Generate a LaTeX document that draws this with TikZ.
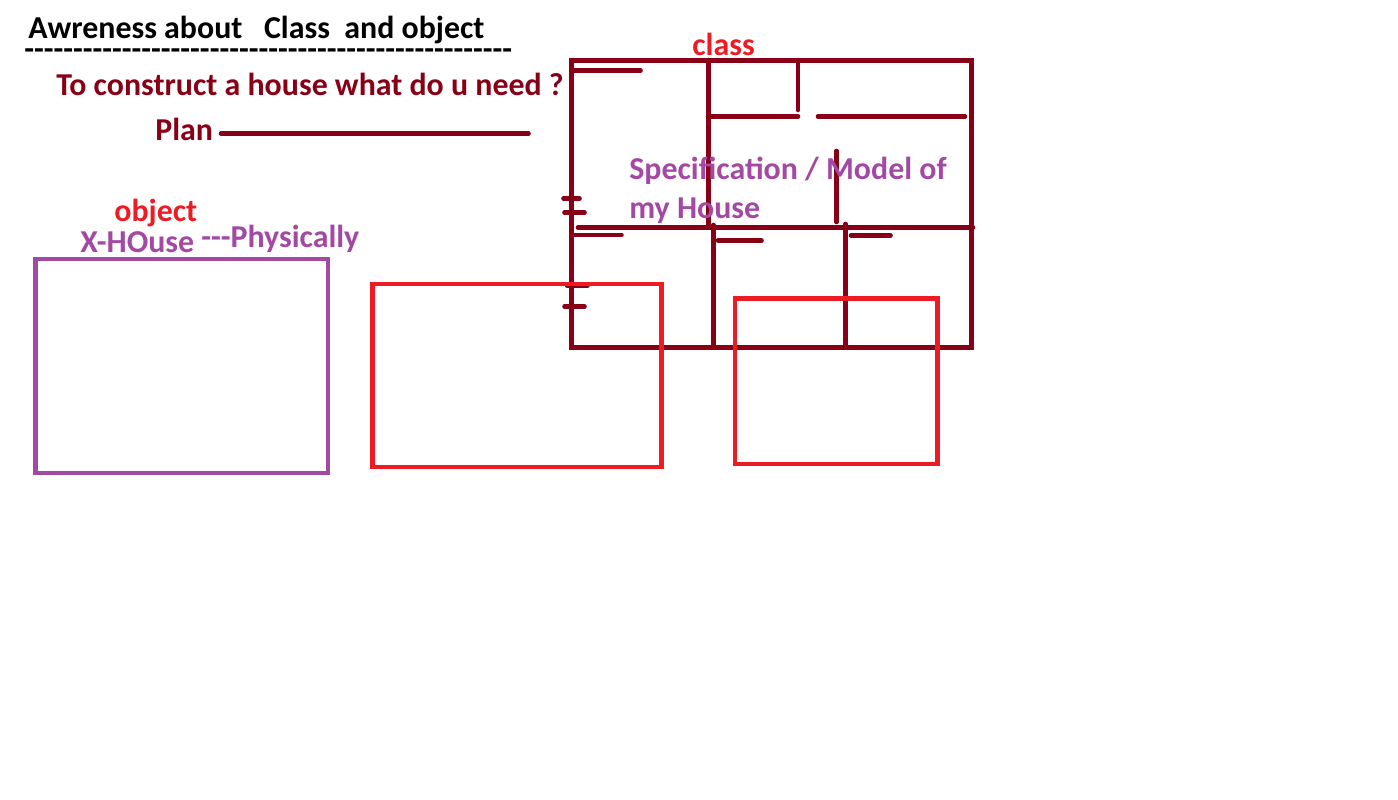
\documentclass[tikz,border=0pt]{standalone}
\usepackage{fontspec}
\newfontfamily\carlito{Carlito}
\definecolor{wallred}{HTML}{880015}
\definecolor{paintred}{HTML}{ED1C24}
\definecolor{paintpurple}{HTML}{A349A4}
\tikzset{
    label text/.style={anchor=base west, inner sep=0pt, font=\carlito\bfseries\fontsize{18.15}{22}\selectfont},
    wall/.style={draw=wallred, line width=2.6pt, line cap=round},
    box/.style={line width=2.6pt},
}

\begin{document}
\begin{tikzpicture}[x=0.02cm, y=-0.02cm]
    \useasboundingbox (0,0) rectangle (1398,800);

    % House plan
    \draw[wall, line cap=butt] (571.5,60.5) rectangle (971.5,347.5);
    \draw[wall] (708.5,60) -- (708.5,227);
    \draw[wall] (798,60) -- (798,110);
    \draw[wall] (708,116.5) -- (798,116.5);
    \draw[wall] (818,116.5) -- (965,116.5);
    \draw[wall] (836.5,151) -- (836.5,222);
    \draw[wall] (578,227.5) -- (973,227.5);
    \draw[wall] (713.5,225) -- (713.5,347);
    \draw[wall] (845.5,224) -- (845.5,347);
    % Short marks
    \draw[wall] (574,70.5) -- (640.5,70.5);
    \draw[wall] (574,235) -- (621.5,235);
    \draw[wall] (718,240.5) -- (761.5,240.5);
    \draw[wall] (851,235.5) -- (890.5,235.5);
    \draw[wall] (563.5,198.5) -- (579.5,198.5);
    \draw[wall] (564.5,212.5) -- (584.5,212.5);
    \draw[wall] (567,285.5) -- (587.5,285.5);
    \draw[wall] (564.5,306.5) -- (584.5,306.5);

    % Objects
    \draw[box, draw=paintpurple] (35.5,259) rectangle (328,473);
    \draw[box, draw=paintred] (372.5,284) rectangle (661.5,467);
    \draw[box, draw=paintred] (735,298.5) rectangle (937.5,464);
    % Plan line
    \draw[wall] (221,133.5) -- (528.5,133.5);

    \node[label text] (title) at (28,39) {Awreness about\ \ \ Class\ \ and object};
    \node[label text] (rule) at (24,60) {--------------------------------------------------};
    \node[label text, text=wallred] (question) at (56,96) {To construct a house what do u need ?};
    \node[label text, text=wallred] (plan) at (155,141) {Plan};
    \node[label text, text=paintred] (object) at (114,222) {object};
    \node[label text, text=paintpurple] (xhouse) at (80,253) {X-HOuse};
    \node[label text, text=paintpurple] (physically) at (201,248) {---Physically};
    \node[label text, text=paintred] (class) at (692,56) {class};
    \node[label text, text=paintpurple] (spec) at (629,180) {Specification / Model of};
    \node[label text, text=paintpurple] (myhouse) at (629,219) {my House};
\end{tikzpicture}
\end{document}
